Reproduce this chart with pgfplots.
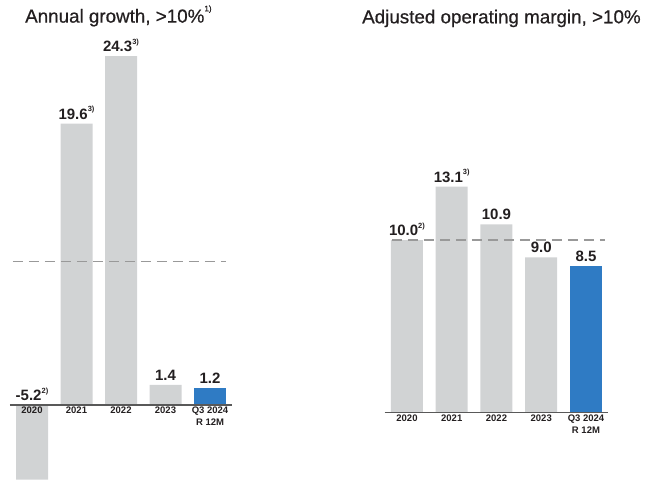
\documentclass[border=0pt]{standalone}
\usepackage{pgfplots}
\pgfplotsset{compat=1.18}
\usepackage{fontspec}
\setmainfont{Liberation Sans}
\newfontfamily\titlefont{Liberation Sans}[FakeBold=0.6]
\definecolor{bargrey}{HTML}{D1D3D4}
\definecolor{barblue}{HTML}{2F7BC4}
\definecolor{txt}{HTML}{231F20}
\definecolor{axisgrey}{HTML}{595959}
\definecolor{dashgrey}{HTML}{999999}
\newcommand\fn[1]{\raisebox{0.5em}{\fontsize{7.5}{7.5}\selectfont\bfseries #1}}

\pgfplotsset{
  panel/.style={
    scale only axis, axis on top, clip=false,
    xmin=-0.5, xmax=4.5,
    axis x line=middle, axis y line=none, hide obscured x ticks=false,
    x axis line style={-, axisgrey, line width=1.3pt},
    xtick={0,...,4}, major tick length=0pt,
    xticklabels={2020,2021,2022,2023,{Q3 2024\\R 12M}},
    xticklabel style={font=\fontsize{9.5}{12}\selectfont\bfseries, text=txt, align=center, inner sep=2pt},
  },
  vals/.style={draw=none, mark=none, nodes near coords, point meta=explicit symbolic,
    nodes near coords style={font=\fontsize{15}{15}\selectfont\bfseries, text=txt, anchor=base, inner sep=0pt, yshift=4.5pt}},
  bars/.style={ybar, bar width=32pt, draw=none, fill=#1},
  target/.style={dashgrey, line width=1.5pt, dash pattern=on 10pt off 6pt},
}

\begin{document}
\begin{tikzpicture}
\path[use as bounding box] (0,0) rectangle (660pt,487pt);

% left panel: annual growth
\node[anchor=base west, inner sep=0pt, font=\titlefont\fontsize{18.8}{21}\selectfont, text=txt] at (25pt,464.4pt) {Annual growth, >10\%\raisebox{0.6em}{\fontsize{8}{8}\selectfont 1)}};
\begin{axis}[panel, at={(9.75pt,6.3pt)}, anchor=south west,
  width=222.5pt, height=434.7pt, ymin=-5.27, ymax=25]
\addplot[bars=bargrey] coordinates {(0,-5.2) (1,19.6) (2,24.3) (3,1.4)};
\addplot[bars=barblue] coordinates {(4,1.2)};
\addplot[target] coordinates {(-0.43,10) (4.36,10)};
\addplot[vals] coordinates {(0,0)[{-5.2\fn{2)}}] (1,19.6)[{19.6\fn{3)}}] (2,24.3)[{24.3\fn{3)}}] (3,1.4)[1.4] (4,1.2)[1.2]};
\end{axis}

% right panel: adjusted operating margin
\node[anchor=base west, inner sep=0pt, font=\titlefont\fontsize{18.8}{21}\selectfont, text=txt] at (362pt,463.7pt) {Adjusted operating margin, >10\%};
\begin{axis}[panel, at={(384.6pt,74.3pt)}, anchor=south west,
  width=223.75pt, height=259pt, ymin=0, ymax=15]
\addplot[bars=bargrey] coordinates {(0,10.0) (1,13.1) (2,10.9) (3,9.0)};
\addplot[bars=barblue] coordinates {(4,8.5)};
\addplot[target] coordinates {(-0.34,10) (4.42,10)};
\addplot[vals] coordinates {(0,10.0)[{10.0\fn{2)}}] (1,13.1)[{13.1\fn{3)}}] (2,10.9)[10.9] (3,9.0)[9.0] (4,8.5)[8.5]};
\end{axis}
\end{tikzpicture}
\end{document}
